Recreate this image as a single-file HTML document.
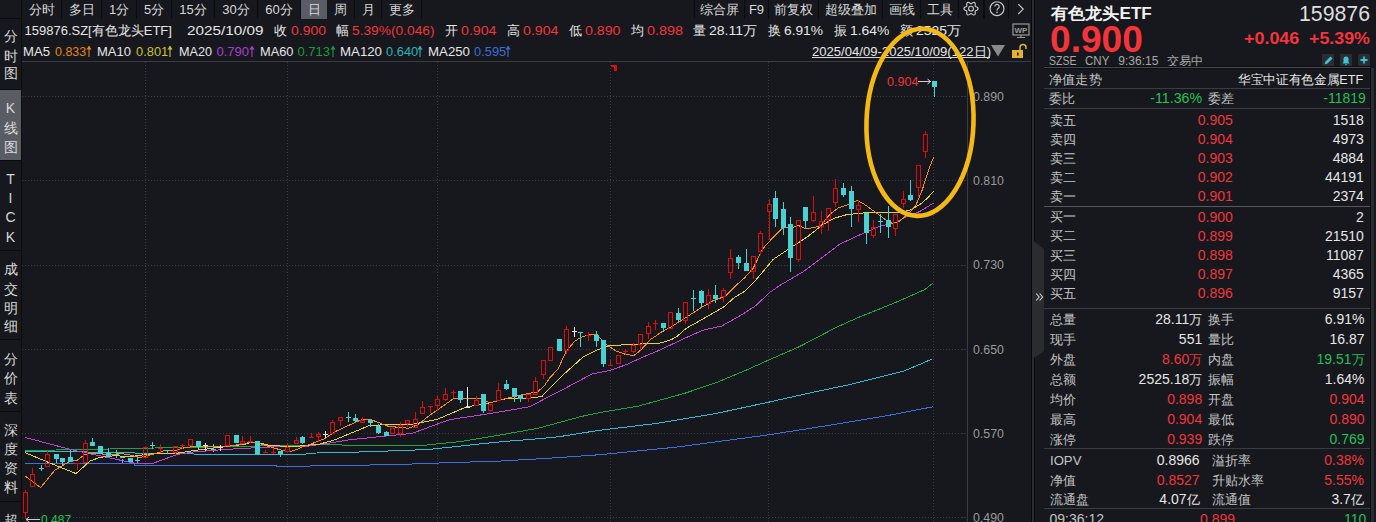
<!DOCTYPE html>
<html><head><meta charset="utf-8">
<style>
*{margin:0;padding:0;box-sizing:border-box}
html,body{width:1376px;height:522px;overflow:hidden;background:#16181d;font-family:"Liberation Sans",sans-serif;color:#d6d6d6}
.a{position:absolute;white-space:nowrap;line-height:1}
.btn{position:absolute;top:0;height:19px;line-height:19px;font-size:13px;color:#d8d8d8;text-align:center;border-right:1px solid #0b0c0f}
.side{position:absolute;left:0;width:21px;background:#16181d;border-bottom:1px solid #0b0c0f}
.ch{position:absolute;left:0;width:21px;text-align:center;font-size:14px;line-height:1;color:#d8d8d8}
.r{color:#f0353b}.g{color:#1ec05a}.w{color:#e8e8e8}.gy{color:#a0a0a0}
.t13{font-size:13px}
.hl{position:absolute;height:1px;background:#34363c}
</style></head><body>
<!-- top toolbar -->
<div class="btn" style="left:0;width:22px;border-bottom:1px solid #0b0c0f"></div>
<div class="btn" style="left:22px;width:40px">分时</div>
<div class="btn" style="left:62px;width:40px">多日</div>
<div class="btn" style="left:102px;width:35px">1分</div>
<div class="btn" style="left:137px;width:35px">5分</div>
<div class="btn" style="left:172px;width:43px">15分</div>
<div class="btn" style="left:215px;width:43px">30分</div>
<div class="btn" style="left:258px;width:43px">60分</div>
<div class="btn" style="left:301px;width:26px;background:#5a5c63;border-right:none">日</div>
<div class="btn" style="left:327px;width:28px">周</div>
<div class="btn" style="left:355px;width:27px">月</div>
<div class="btn" style="left:382px;width:40px">更多</div>
<div class="btn" style="left:694px;width:51px;border-left:1px solid #0b0c0f">综合屏</div>
<div class="btn" style="left:745px;width:24px">F9</div>
<div class="btn" style="left:769px;width:50px">前复权</div>
<div class="btn" style="left:819px;width:64px">超级叠加</div>
<div class="btn" style="left:883px;width:38px">画线</div>
<div class="btn" style="left:921px;width:38px">工具</div>
<div class="btn" style="left:959px;width:26px;border-right:2px solid #0b0c0f"></div>
<div class="btn" style="left:986px;width:23px"></div>
<svg class="a" style="left:958px;top:0" width="74" height="19" viewBox="0 0 74 19">
  <g fill="none" stroke="#c8c8c8" stroke-width="1.15">
    <path d="M20.10 8.65 L19.93 9.26 L19.45 9.79 L18.80 10.20 L18.12 10.51 L17.57 10.78 L17.24 11.10 L17.13 11.55 L17.17 12.15 L17.24 12.89 L17.21 13.67 L16.99 14.35 L16.55 14.80 L15.94 14.95 L15.24 14.80 L14.55 14.45 L13.95 14.02 L13.44 13.68 L13.00 13.55 L12.56 13.68 L12.05 14.02 L11.45 14.45 L10.76 14.80 L10.06 14.95 L9.45 14.80 L9.01 14.35 L8.79 13.67 L8.76 12.89 L8.83 12.15 L8.87 11.55 L8.76 11.10 L8.43 10.78 L7.88 10.51 L7.20 10.20 L6.55 9.79 L6.07 9.26 L5.90 8.65 L6.07 8.04 L6.55 7.51 L7.20 7.10 L7.88 6.79 L8.43 6.52 L8.76 6.20 L8.87 5.75 L8.83 5.15 L8.76 4.41 L8.79 3.63 L9.01 2.95 L9.45 2.50 L10.06 2.35 L10.76 2.50 L11.45 2.85 L12.05 3.28 L12.56 3.62 L13.00 3.75 L13.44 3.62 L13.95 3.28 L14.55 2.85 L15.24 2.50 L15.94 2.35 L16.55 2.50 L16.99 2.95 L17.21 3.63 L17.24 4.41 L17.17 5.15 L17.13 5.75 L17.24 6.20 L17.57 6.52 L18.12 6.79 L18.80 7.10 L19.45 7.51 L19.93 8.04 L20.10 8.65Z"/>
    <circle cx="13" cy="8.65" r="2.4"/>
    <circle cx="39" cy="8.65" r="6.9"/>
    <path d="M36.8 6.6a2.2 2.2 0 1 1 3.3 1.9c-0.8 0.45-1.1 0.9-1.1 1.9"/>
    <path d="M60.2 4.2l5 4.9-5 4.9"/>
  </g>
  <circle cx="39" cy="12.4" r="0.8" fill="#c8c8c8"/>
</svg>
<!-- left sidebar -->
<div class="side" style="top:19px;height:71px"><div class="ch" style="top:10px">分</div><div class="ch" style="top:30px">时</div><div class="ch" style="top:47px">图</div></div>
<div class="side" style="top:90px;height:71px;background:#5a5c63"><div class="ch" style="top:11px">K</div><div class="ch" style="top:31px">线</div><div class="ch" style="top:50px">图</div></div>
<div class="side" style="top:161px;height:90px"><div class="ch" style="top:11px">T</div><div class="ch" style="top:30px">I</div><div class="ch" style="top:49px">C</div><div class="ch" style="top:69px">K</div></div>
<div class="side" style="top:251px;height:89px"><div class="ch" style="top:11px">成</div><div class="ch" style="top:31px">交</div><div class="ch" style="top:50px">明</div><div class="ch" style="top:68px">细</div></div>
<div class="side" style="top:340px;height:72px"><div class="ch" style="top:12px">分</div><div class="ch" style="top:31px">价</div><div class="ch" style="top:51px">表</div></div>
<div class="side" style="top:412px;height:90px"><div class="ch" style="top:11px">深</div><div class="ch" style="top:30px">度</div><div class="ch" style="top:49px">资</div><div class="ch" style="top:68px">料</div></div>
<div class="side" style="top:502px;height:20px;border-bottom:none"><div class="ch" style="top:11px">超</div></div>
<div class="a" style="left:21px;top:19px;width:1px;height:503px;background:#0b0c0f"></div>

<svg class="a" style="left:0;top:0" width="1376" height="522" viewBox="0 0 1376 522" shape-rendering="crispEdges">
<line x1="22" y1="96.5" x2="968" y2="96.5" stroke="#3a3c41" stroke-dasharray="1 2"/>
<line x1="22" y1="180.5" x2="968" y2="180.5" stroke="#3a3c41" stroke-dasharray="1 2"/>
<line x1="22" y1="265.5" x2="968" y2="265.5" stroke="#3a3c41" stroke-dasharray="1 2"/>
<line x1="22" y1="349.5" x2="968" y2="349.5" stroke="#3a3c41" stroke-dasharray="1 2"/>
<line x1="22" y1="433.5" x2="968" y2="433.5" stroke="#3a3c41" stroke-dasharray="1 2"/>
<line x1="22" y1="517.5" x2="968" y2="517.5" stroke="#3a3c41" stroke-dasharray="1 2"/>
<line x1="145.5" y1="62" x2="145.5" y2="522" stroke="#3a3c41" stroke-dasharray="1 2"/>
<line x1="287.5" y1="62" x2="287.5" y2="522" stroke="#3a3c41" stroke-dasharray="1 2"/>
<line x1="437.5" y1="62" x2="437.5" y2="522" stroke="#3a3c41" stroke-dasharray="1 2"/>
<line x1="610.5" y1="62" x2="610.5" y2="522" stroke="#3a3c41" stroke-dasharray="1 2"/>
<line x1="768.5" y1="62" x2="768.5" y2="522" stroke="#3a3c41" stroke-dasharray="1 2"/>
<line x1="933.5" y1="62" x2="933.5" y2="522" stroke="#3a3c41" stroke-dasharray="1 2"/>
<rect x="967" y="62" width="1" height="460" fill="#3a3c42"/>
<line x1="962" y1="96.5" x2="967" y2="96.5" stroke="#3a3c41" stroke-dasharray="1 2"/>
<line x1="962" y1="180.5" x2="967" y2="180.5" stroke="#3a3c41" stroke-dasharray="1 2"/>
<line x1="962" y1="265.5" x2="967" y2="265.5" stroke="#3a3c41" stroke-dasharray="1 2"/>
<line x1="962" y1="349.5" x2="967" y2="349.5" stroke="#3a3c41" stroke-dasharray="1 2"/>
<line x1="962" y1="433.5" x2="967" y2="433.5" stroke="#3a3c41" stroke-dasharray="1 2"/>
<line x1="962" y1="517.5" x2="967" y2="517.5" stroke="#3a3c41" stroke-dasharray="1 2"/>
<polyline points="25.0,463.7 134.9,463.7 135.0,465.5 276.8,465.5 277.0,466.5 350.5,465.4 404.0,464.3 433.4,463.2 501.0,461.0 546.7,458.4 600.0,454.7 676.7,447.1 768.6,434.8 830.0,425.2 887.5,415.6 932.7,406.8" fill="none" stroke="#3e6ee0" stroke-width="1" shape-rendering="crispEdges"/>
<polyline points="25.0,451.4 87.6,451.6 88.0,452.5 134.9,452.5 135.0,453.2 193.5,453.2 194.0,454.2 306.0,454.2 307.0,453.2 350.5,452.3 381.0,451.2 404.0,450.6 433.4,449.0 472.6,444.7 505.3,441.4 538.0,438.8 559.8,436.6 581.6,433.1 600.0,430.2 657.5,423.3 715.0,413.7 768.6,402.2 814.6,391.9 850.4,384.5 882.6,376.4 904.0,371.0 920.1,364.3 932.2,359.0" fill="none" stroke="#30bcd0" stroke-width="1" shape-rendering="crispEdges"/>
<polyline points="25.0,450.5 87.6,449.5 177.7,447.5 245.3,446.4 267.8,445.7 330.0,444.8 388.7,445.8 419.2,445.8 433.4,444.3 461.7,441.4 494.4,436.0 538.0,428.3 581.6,416.4 600.0,412.6 638.3,406.1 684.3,393.4 715.0,383.1 745.6,370.4 768.6,360.1 799.3,346.7 837.6,326.7 858.5,317.4 880.0,308.8 901.4,300.0 925.0,289.5 932.5,283.4" fill="none" stroke="#1aa540" stroke-width="1" shape-rendering="crispEdges"/>
<polyline points="25.0,437.4 71.8,449.8 87.6,453.2 134.9,463.3 152.9,463.3 177.7,454.3 193.5,452.0 208.0,450.8 226.0,449.4 246.0,448.3 270.0,447.0 306.0,446.4 330.0,443.0 349.3,439.8 389.0,435.7 412.0,433.4 440.0,423.1 451.0,419.4 490.0,413.6 530.0,406.7 550.0,396.0 562.0,390.0 591.7,374.1 609.0,370.7 626.2,364.7 643.4,356.9 660.0,350.0 681.6,339.7 702.7,330.2 721.7,326.0 740.7,315.4 755.4,305.9 770.0,292.2 780.6,285.0 802.7,272.0 823.8,256.2 840.0,244.0 863.9,233.0 880.0,226.0 895.0,222.9 905.0,217.5 920.0,211.4 933.5,203.0" fill="none" stroke="#bf42d4" stroke-width="1" shape-rendering="crispEdges"/>
<polyline points="25.0,452.6 50.0,463.0 76.0,473.6 90.0,461.0 100.0,457.4 115.0,455.6 130.0,456.8 145.0,454.5 160.0,453.3 175.0,453.3 180.0,452.8 194.0,450.5 205.0,449.3 222.0,446.6 235.0,445.4 245.0,444.3 250.0,442.5 260.0,443.0 265.0,444.3 270.0,445.4 280.0,446.0 300.0,446.0 320.0,444.0 335.0,439.8 368.3,426.0 389.0,424.3 412.0,424.3 437.0,419.4 467.0,406.7 483.0,404.4 505.0,399.0 530.0,398.2 542.0,396.4 547.8,390.0 565.9,372.4 583.1,356.9 596.9,350.0 609.0,345.7 629.7,344.5 660.0,343.1 671.1,339.8 677.9,335.7 686.0,328.4 700.7,320.2 723.5,307.2 734.4,297.5 744.9,291.2 755.4,280.6 773.2,259.4 792.2,246.7 806.9,237.2 822.8,224.6 834.4,218.2 847.0,214.6 865.0,212.8 899.9,212.8 910.0,210.0 920.0,204.5 927.0,198.5 933.5,191.5" fill="none" stroke="#e4d03a" stroke-width="1" shape-rendering="crispEdges"/>
<polyline points="25.0,476.0 40.6,487.6 55.0,470.0 70.0,461.2 77.0,460.3 85.4,454.2 97.0,453.3 110.0,455.0 120.0,453.3 130.0,455.0 140.0,457.4 152.0,454.5 163.0,451.0 175.0,450.5 185.0,447.6 195.0,446.4 222.0,447.0 230.0,446.0 240.0,444.3 250.0,442.5 258.0,442.5 262.0,444.3 275.0,448.3 283.0,450.6 290.0,451.7 297.0,449.4 302.0,447.0 310.0,444.3 318.0,441.4 325.0,438.5 335.0,431.7 350.0,424.8 361.4,419.7 371.1,419.7 389.0,426.6 397.0,427.1 408.5,428.3 417.7,424.8 430.0,415.1 453.0,399.0 480.6,398.3 489.8,402.8 499.0,400.5 509.7,397.5 528.0,393.6 537.3,392.0 544.2,386.0 550.0,377.5 558.1,369.0 565.9,351.7 574.5,341.4 581.4,337.1 591.7,334.1 596.9,334.5 606.4,344.8 615.9,350.9 625.3,354.3 634.0,355.5 640.9,350.0 650.3,339.7 662.7,331.2 671.1,327.0 685.9,317.5 700.6,308.0 713.3,300.6 724.9,296.4 734.4,286.9 744.9,277.5 753.3,268.0 762.7,248.8 773.2,237.2 783.7,226.7 791.1,228.1 798.5,225.6 805.9,228.8 813.3,227.7 820.6,225.6 830.1,214.0 838.6,207.7 849.1,204.5 857.5,200.3 865.0,204.8 873.7,211.0 883.7,218.5 892.4,223.5 899.9,221.0 908.6,213.5 916.1,204.8 922.3,189.8 928.6,169.9 933.5,157.4" fill="none" stroke="#f48c1a" stroke-width="1" shape-rendering="crispEdges"/>
<rect x="25" y="490" width="1" height="2" fill="#e00c0c"/>
<rect x="25" y="513" width="1" height="6" fill="#e00c0c"/>
<rect x="23.5" y="492.5" width="4" height="20" fill="none" stroke="#e00c0c" stroke-width="1"/>
<rect x="32" y="468" width="1" height="6" fill="#e00c0c"/>
<rect x="30.5" y="474.5" width="4" height="12" fill="none" stroke="#e00c0c" stroke-width="1"/>
<rect x="41" y="465" width="1" height="3" fill="#48d0d2"/>
<rect x="41" y="469" width="1" height="2" fill="#48d0d2"/>
<rect x="39" y="468" width="5" height="1" fill="#48d0d2"/>
<rect x="47" y="451" width="1" height="3" fill="#e00c0c"/>
<rect x="45.5" y="454.5" width="4" height="12" fill="none" stroke="#e00c0c" stroke-width="1"/>
<rect x="56" y="459" width="1" height="4" fill="#48d0d2"/>
<rect x="54" y="454" width="5" height="5" fill="#48d0d2"/>
<rect x="62" y="462" width="1" height="4" fill="#48d0d2"/>
<rect x="60" y="458" width="5" height="4" fill="#48d0d2"/>
<rect x="70" y="450" width="1" height="7" fill="#48d0d2"/>
<rect x="68" y="457" width="5" height="5" fill="#48d0d2"/>
<rect x="77" y="464" width="1" height="6" fill="#e00c0c"/>
<rect x="75" y="463" width="5" height="1" fill="#e00c0c"/>
<rect x="85" y="440" width="1" height="3" fill="#e00c0c"/>
<rect x="83.5" y="443.5" width="4" height="19" fill="none" stroke="#e00c0c" stroke-width="1"/>
<rect x="92" y="438" width="1" height="4" fill="#48d0d2"/>
<rect x="90" y="442" width="5" height="4" fill="#48d0d2"/>
<rect x="98" y="446" width="5" height="8" fill="#48d0d2"/>
<rect x="108" y="448" width="1" height="5" fill="#48d0d2"/>
<rect x="106" y="453" width="5" height="4" fill="#48d0d2"/>
<rect x="116" y="450" width="1" height="4" fill="#48d0d2"/>
<rect x="116" y="456" width="1" height="2" fill="#48d0d2"/>
<rect x="114" y="454" width="5" height="1" fill="#48d0d2"/>
<rect x="122" y="459" width="1" height="4" fill="#48d0d2"/>
<rect x="120" y="457" width="5" height="1" fill="#48d0d2"/>
<rect x="128" y="458" width="5" height="4" fill="#48d0d2"/>
<rect x="137" y="457" width="1" height="3" fill="#48d0d2"/>
<rect x="137" y="461" width="1" height="2" fill="#48d0d2"/>
<rect x="135" y="460" width="5" height="1" fill="#48d0d2"/>
<rect x="143.5" y="447.5" width="4" height="10" fill="none" stroke="#e00c0c" stroke-width="1"/>
<rect x="152" y="442" width="1" height="3" fill="#48d0d2"/>
<rect x="152" y="446" width="1" height="3" fill="#48d0d2"/>
<rect x="150" y="445" width="5" height="1" fill="#48d0d2"/>
<rect x="160" y="444" width="1" height="4" fill="#e00c0c"/>
<rect x="160" y="449" width="1" height="4" fill="#e00c0c"/>
<rect x="158" y="448" width="5" height="1" fill="#e00c0c"/>
<rect x="167" y="451" width="1" height="3" fill="#48d0d2"/>
<rect x="165" y="450" width="5" height="1" fill="#48d0d2"/>
<rect x="175" y="453" width="1" height="1" fill="#e00c0c"/>
<rect x="173.5" y="446.5" width="4" height="6" fill="none" stroke="#e00c0c" stroke-width="1"/>
<rect x="182" y="444" width="1" height="1" fill="#e00c0c"/>
<rect x="182" y="446" width="1" height="3" fill="#e00c0c"/>
<rect x="180" y="445" width="5" height="1" fill="#e00c0c"/>
<rect x="188.5" y="439.5" width="4" height="6" fill="none" stroke="#e00c0c" stroke-width="1"/>
<rect x="198" y="447" width="1" height="2" fill="#48d0d2"/>
<rect x="196" y="441" width="5" height="6" fill="#48d0d2"/>
<rect x="205" y="443" width="1" height="2" fill="#e6e6e6"/>
<rect x="205" y="446" width="1" height="5" fill="#e6e6e6"/>
<rect x="203" y="445" width="5" height="1" fill="#e6e6e6"/>
<rect x="213" y="444" width="1" height="5" fill="#48d0d2"/>
<rect x="213" y="451" width="1" height="1" fill="#48d0d2"/>
<rect x="211" y="449" width="5" height="1" fill="#48d0d2"/>
<rect x="220" y="445" width="1" height="2" fill="#e6e6e6"/>
<rect x="220" y="448" width="1" height="3" fill="#e6e6e6"/>
<rect x="218" y="447" width="5" height="1" fill="#e6e6e6"/>
<rect x="225.5" y="435.5" width="4" height="10" fill="none" stroke="#e00c0c" stroke-width="1"/>
<rect x="234" y="435" width="5" height="8" fill="#48d0d2"/>
<rect x="242" y="436" width="1" height="5" fill="#e00c0c"/>
<rect x="240.5" y="441.5" width="4" height="2" fill="none" stroke="#e00c0c" stroke-width="1"/>
<rect x="250" y="436" width="1" height="5" fill="#e00c0c"/>
<rect x="250" y="442" width="1" height="1" fill="#e00c0c"/>
<rect x="248" y="441" width="5" height="1" fill="#e00c0c"/>
<rect x="257" y="454" width="1" height="1" fill="#48d0d2"/>
<rect x="255" y="441" width="5" height="13" fill="#48d0d2"/>
<rect x="265" y="450" width="1" height="2" fill="#e00c0c"/>
<rect x="263" y="452" width="5" height="1" fill="#e00c0c"/>
<rect x="273" y="448" width="1" height="4" fill="#e00c0c"/>
<rect x="273" y="453" width="1" height="1" fill="#e00c0c"/>
<rect x="271" y="452" width="5" height="1" fill="#e00c0c"/>
<rect x="280" y="454" width="1" height="3" fill="#48d0d2"/>
<rect x="278" y="451" width="5" height="3" fill="#48d0d2"/>
<rect x="287" y="443" width="1" height="4" fill="#e00c0c"/>
<rect x="285.5" y="447.5" width="4" height="4" fill="none" stroke="#e00c0c" stroke-width="1"/>
<rect x="296" y="437" width="1" height="3" fill="#e00c0c"/>
<rect x="294.5" y="440.5" width="4" height="3" fill="none" stroke="#e00c0c" stroke-width="1"/>
<rect x="302" y="436" width="1" height="1" fill="#48d0d2"/>
<rect x="302" y="443" width="1" height="1" fill="#48d0d2"/>
<rect x="300" y="437" width="5" height="6" fill="#48d0d2"/>
<rect x="311" y="433" width="1" height="4" fill="#e00c0c"/>
<rect x="309" y="437" width="5" height="1" fill="#e00c0c"/>
<rect x="318" y="432" width="1" height="2" fill="#e00c0c"/>
<rect x="318" y="437" width="1" height="5" fill="#e00c0c"/>
<rect x="316.5" y="434.5" width="4" height="2" fill="none" stroke="#e00c0c" stroke-width="1"/>
<rect x="325" y="431" width="1" height="3" fill="#e6e6e6"/>
<rect x="325" y="435" width="1" height="3" fill="#e6e6e6"/>
<rect x="323" y="434" width="5" height="1" fill="#e6e6e6"/>
<rect x="332" y="420" width="1" height="2" fill="#e00c0c"/>
<rect x="330.5" y="422.5" width="4" height="11" fill="none" stroke="#e00c0c" stroke-width="1"/>
<rect x="340" y="421" width="1" height="5" fill="#e00c0c"/>
<rect x="338.5" y="417.5" width="4" height="3" fill="none" stroke="#e00c0c" stroke-width="1"/>
<rect x="348" y="412" width="1" height="5" fill="#48d0d2"/>
<rect x="348" y="418" width="1" height="4" fill="#48d0d2"/>
<rect x="346" y="417" width="5" height="1" fill="#48d0d2"/>
<rect x="355" y="414" width="1" height="4" fill="#48d0d2"/>
<rect x="355" y="421" width="1" height="1" fill="#48d0d2"/>
<rect x="353" y="418" width="5" height="3" fill="#48d0d2"/>
<rect x="362" y="417" width="1" height="3" fill="#e00c0c"/>
<rect x="360.5" y="420.5" width="4" height="2" fill="none" stroke="#e00c0c" stroke-width="1"/>
<rect x="370" y="423" width="1" height="4" fill="#48d0d2"/>
<rect x="368" y="420" width="5" height="3" fill="#48d0d2"/>
<rect x="378" y="424" width="1" height="2" fill="#48d0d2"/>
<rect x="378" y="433" width="1" height="1" fill="#48d0d2"/>
<rect x="376" y="426" width="5" height="7" fill="#48d0d2"/>
<rect x="386" y="431" width="1" height="1" fill="#48d0d2"/>
<rect x="384" y="432" width="5" height="4" fill="#48d0d2"/>
<rect x="390.5" y="428.5" width="4" height="5" fill="none" stroke="#e00c0c" stroke-width="1"/>
<rect x="400" y="422" width="1" height="3" fill="#e00c0c"/>
<rect x="400" y="434" width="1" height="3" fill="#e00c0c"/>
<rect x="398.5" y="425.5" width="4" height="8" fill="none" stroke="#e00c0c" stroke-width="1"/>
<rect x="407" y="424" width="1" height="3" fill="#e00c0c"/>
<rect x="405.5" y="420.5" width="4" height="3" fill="none" stroke="#e00c0c" stroke-width="1"/>
<rect x="415" y="412" width="1" height="7" fill="#e00c0c"/>
<rect x="413.5" y="419.5" width="4" height="8" fill="none" stroke="#e00c0c" stroke-width="1"/>
<rect x="422" y="401" width="1" height="6" fill="#e00c0c"/>
<rect x="420.5" y="407.5" width="4" height="6" fill="none" stroke="#e00c0c" stroke-width="1"/>
<rect x="430" y="407" width="1" height="6" fill="#e00c0c"/>
<rect x="428" y="406" width="5" height="1" fill="#e00c0c"/>
<rect x="437" y="396" width="1" height="3" fill="#e00c0c"/>
<rect x="437" y="406" width="1" height="5" fill="#e00c0c"/>
<rect x="435.5" y="399.5" width="4" height="6" fill="none" stroke="#e00c0c" stroke-width="1"/>
<rect x="445" y="388" width="1" height="6" fill="#e00c0c"/>
<rect x="445" y="400" width="1" height="1" fill="#e00c0c"/>
<rect x="443.5" y="394.5" width="4" height="5" fill="none" stroke="#e00c0c" stroke-width="1"/>
<rect x="453" y="390" width="1" height="2" fill="#e00c0c"/>
<rect x="453" y="393" width="1" height="5" fill="#e00c0c"/>
<rect x="451" y="392" width="5" height="1" fill="#e00c0c"/>
<rect x="460" y="400" width="1" height="3" fill="#48d0d2"/>
<rect x="458" y="391" width="5" height="9" fill="#48d0d2"/>
<rect x="467" y="387" width="1" height="20" fill="#e6e6e6"/>
<rect x="465" y="407" width="5" height="1" fill="#e6e6e6"/>
<rect x="476" y="396" width="1" height="4" fill="#e00c0c"/>
<rect x="474.5" y="400.5" width="4" height="5" fill="none" stroke="#e00c0c" stroke-width="1"/>
<rect x="483" y="411" width="1" height="2" fill="#48d0d2"/>
<rect x="481" y="394" width="5" height="17" fill="#48d0d2"/>
<rect x="488.5" y="404.5" width="4" height="6" fill="none" stroke="#e00c0c" stroke-width="1"/>
<rect x="498" y="383" width="1" height="7" fill="#e00c0c"/>
<rect x="496.5" y="390.5" width="4" height="10" fill="none" stroke="#e00c0c" stroke-width="1"/>
<rect x="506" y="380" width="1" height="4" fill="#48d0d2"/>
<rect x="506" y="389" width="1" height="1" fill="#48d0d2"/>
<rect x="504" y="384" width="5" height="5" fill="#48d0d2"/>
<rect x="514" y="396" width="1" height="6" fill="#48d0d2"/>
<rect x="512" y="388" width="5" height="8" fill="#48d0d2"/>
<rect x="520" y="399" width="1" height="3" fill="#48d0d2"/>
<rect x="518" y="395" width="5" height="4" fill="#48d0d2"/>
<rect x="528" y="399" width="1" height="3" fill="#e00c0c"/>
<rect x="526.5" y="394.5" width="4" height="4" fill="none" stroke="#e00c0c" stroke-width="1"/>
<rect x="535" y="377" width="1" height="4" fill="#e00c0c"/>
<rect x="533.5" y="381.5" width="4" height="13" fill="none" stroke="#e00c0c" stroke-width="1"/>
<rect x="543" y="375" width="1" height="4" fill="#e00c0c"/>
<rect x="541.5" y="360.5" width="4" height="14" fill="none" stroke="#e00c0c" stroke-width="1"/>
<rect x="548.5" y="347.5" width="4" height="13" fill="none" stroke="#e00c0c" stroke-width="1"/>
<rect x="557" y="339" width="5" height="12" fill="#48d0d2"/>
<rect x="566" y="326" width="1" height="3" fill="#e00c0c"/>
<rect x="566" y="351" width="1" height="3" fill="#e00c0c"/>
<rect x="564.5" y="329.5" width="4" height="21" fill="none" stroke="#e00c0c" stroke-width="1"/>
<rect x="574" y="327" width="1" height="4" fill="#e6e6e6"/>
<rect x="574" y="332" width="1" height="5" fill="#e6e6e6"/>
<rect x="572" y="331" width="5" height="1" fill="#e6e6e6"/>
<rect x="580" y="333" width="1" height="14" fill="#48d0d2"/>
<rect x="578" y="332" width="5" height="1" fill="#48d0d2"/>
<rect x="588" y="332" width="1" height="3" fill="#e00c0c"/>
<rect x="588" y="336" width="1" height="5" fill="#e00c0c"/>
<rect x="586" y="335" width="5" height="1" fill="#e00c0c"/>
<rect x="596" y="331" width="1" height="4" fill="#48d0d2"/>
<rect x="596" y="341" width="1" height="6" fill="#48d0d2"/>
<rect x="594" y="335" width="5" height="6" fill="#48d0d2"/>
<rect x="603" y="364" width="1" height="3" fill="#48d0d2"/>
<rect x="601" y="340" width="5" height="24" fill="#48d0d2"/>
<rect x="610" y="360" width="1" height="5" fill="#e00c0c"/>
<rect x="608" y="365" width="5" height="1" fill="#e00c0c"/>
<rect x="616.5" y="355.5" width="4" height="8" fill="none" stroke="#e00c0c" stroke-width="1"/>
<rect x="625" y="349" width="1" height="2" fill="#e00c0c"/>
<rect x="625" y="352" width="1" height="3" fill="#e00c0c"/>
<rect x="623" y="351" width="5" height="1" fill="#e00c0c"/>
<rect x="633" y="343" width="1" height="2" fill="#e00c0c"/>
<rect x="633" y="352" width="1" height="1" fill="#e00c0c"/>
<rect x="631.5" y="345.5" width="4" height="6" fill="none" stroke="#e00c0c" stroke-width="1"/>
<rect x="640" y="345" width="1" height="5" fill="#e00c0c"/>
<rect x="638.5" y="334.5" width="4" height="10" fill="none" stroke="#e00c0c" stroke-width="1"/>
<rect x="648" y="322" width="1" height="4" fill="#e00c0c"/>
<rect x="648" y="334" width="1" height="5" fill="#e00c0c"/>
<rect x="646.5" y="326.5" width="4" height="7" fill="none" stroke="#e00c0c" stroke-width="1"/>
<rect x="655" y="320" width="1" height="3" fill="#e00c0c"/>
<rect x="655" y="324" width="1" height="6" fill="#e00c0c"/>
<rect x="653" y="323" width="5" height="1" fill="#e00c0c"/>
<rect x="663" y="328" width="1" height="4" fill="#48d0d2"/>
<rect x="661" y="323" width="5" height="5" fill="#48d0d2"/>
<rect x="668.5" y="312.5" width="4" height="16" fill="none" stroke="#e00c0c" stroke-width="1"/>
<rect x="678" y="308" width="1" height="5" fill="#48d0d2"/>
<rect x="678" y="320" width="1" height="2" fill="#48d0d2"/>
<rect x="676" y="313" width="5" height="7" fill="#48d0d2"/>
<rect x="685" y="321" width="1" height="3" fill="#e00c0c"/>
<rect x="683.5" y="302.5" width="4" height="18" fill="none" stroke="#e00c0c" stroke-width="1"/>
<rect x="693" y="290" width="1" height="8" fill="#48d0d2"/>
<rect x="693" y="299" width="1" height="12" fill="#48d0d2"/>
<rect x="691" y="298" width="5" height="1" fill="#48d0d2"/>
<rect x="701" y="290" width="1" height="1" fill="#48d0d2"/>
<rect x="701" y="303" width="1" height="4" fill="#48d0d2"/>
<rect x="699" y="291" width="5" height="12" fill="#48d0d2"/>
<rect x="708" y="289" width="1" height="6" fill="#e00c0c"/>
<rect x="708" y="304" width="1" height="5" fill="#e00c0c"/>
<rect x="706.5" y="295.5" width="4" height="8" fill="none" stroke="#e00c0c" stroke-width="1"/>
<rect x="715" y="285" width="1" height="10" fill="#48d0d2"/>
<rect x="715" y="299" width="1" height="4" fill="#48d0d2"/>
<rect x="713" y="295" width="5" height="4" fill="#48d0d2"/>
<rect x="723" y="288" width="1" height="2" fill="#e00c0c"/>
<rect x="723" y="297" width="1" height="5" fill="#e00c0c"/>
<rect x="721.5" y="290.5" width="4" height="6" fill="none" stroke="#e00c0c" stroke-width="1"/>
<rect x="730" y="249" width="1" height="9" fill="#e00c0c"/>
<rect x="730" y="273" width="1" height="6" fill="#e00c0c"/>
<rect x="728.5" y="258.5" width="4" height="14" fill="none" stroke="#e00c0c" stroke-width="1"/>
<rect x="738" y="255" width="1" height="2" fill="#48d0d2"/>
<rect x="738" y="263" width="1" height="6" fill="#48d0d2"/>
<rect x="736" y="257" width="5" height="6" fill="#48d0d2"/>
<rect x="746" y="249" width="1" height="14" fill="#48d0d2"/>
<rect x="744" y="263" width="5" height="8" fill="#48d0d2"/>
<rect x="753" y="272" width="1" height="7" fill="#e00c0c"/>
<rect x="751.5" y="256.5" width="4" height="15" fill="none" stroke="#e00c0c" stroke-width="1"/>
<rect x="760" y="231" width="1" height="2" fill="#e00c0c"/>
<rect x="760" y="252" width="1" height="3" fill="#e00c0c"/>
<rect x="758.5" y="233.5" width="4" height="18" fill="none" stroke="#e00c0c" stroke-width="1"/>
<rect x="769" y="199" width="1" height="5" fill="#e00c0c"/>
<rect x="769" y="212" width="1" height="28" fill="#e00c0c"/>
<rect x="767.5" y="204.5" width="4" height="7" fill="none" stroke="#e00c0c" stroke-width="1"/>
<rect x="775" y="191" width="1" height="7" fill="#48d0d2"/>
<rect x="775" y="219" width="1" height="8" fill="#48d0d2"/>
<rect x="773" y="198" width="5" height="21" fill="#48d0d2"/>
<rect x="783" y="202" width="1" height="7" fill="#48d0d2"/>
<rect x="783" y="228" width="1" height="7" fill="#48d0d2"/>
<rect x="781" y="209" width="5" height="19" fill="#48d0d2"/>
<rect x="790" y="217" width="1" height="7" fill="#48d0d2"/>
<rect x="790" y="258" width="1" height="14" fill="#48d0d2"/>
<rect x="788" y="224" width="5" height="34" fill="#48d0d2"/>
<rect x="798" y="260" width="1" height="2" fill="#e00c0c"/>
<rect x="796.5" y="220.5" width="4" height="39" fill="none" stroke="#e00c0c" stroke-width="1"/>
<rect x="805" y="221" width="1" height="8" fill="#48d0d2"/>
<rect x="803" y="207" width="5" height="14" fill="#48d0d2"/>
<rect x="813" y="196" width="1" height="16" fill="#e00c0c"/>
<rect x="813" y="221" width="1" height="1" fill="#e00c0c"/>
<rect x="811.5" y="212.5" width="4" height="8" fill="none" stroke="#e00c0c" stroke-width="1"/>
<rect x="821" y="211" width="1" height="10" fill="#e00c0c"/>
<rect x="821" y="227" width="1" height="7" fill="#e00c0c"/>
<rect x="819.5" y="221.5" width="4" height="5" fill="none" stroke="#e00c0c" stroke-width="1"/>
<rect x="828" y="220" width="1" height="11" fill="#e00c0c"/>
<rect x="826.5" y="208.5" width="4" height="11" fill="none" stroke="#e00c0c" stroke-width="1"/>
<rect x="835" y="179" width="1" height="9" fill="#e00c0c"/>
<rect x="835" y="203" width="1" height="4" fill="#e00c0c"/>
<rect x="833.5" y="188.5" width="4" height="14" fill="none" stroke="#e00c0c" stroke-width="1"/>
<rect x="843" y="183" width="1" height="5" fill="#48d0d2"/>
<rect x="843" y="195" width="1" height="2" fill="#48d0d2"/>
<rect x="841" y="188" width="5" height="7" fill="#48d0d2"/>
<rect x="851" y="186" width="1" height="5" fill="#48d0d2"/>
<rect x="851" y="209" width="1" height="18" fill="#48d0d2"/>
<rect x="849" y="191" width="5" height="18" fill="#48d0d2"/>
<rect x="858" y="200" width="1" height="5" fill="#e00c0c"/>
<rect x="858" y="210" width="1" height="12" fill="#e00c0c"/>
<rect x="856.5" y="205.5" width="4" height="4" fill="none" stroke="#e00c0c" stroke-width="1"/>
<rect x="866" y="233" width="1" height="11" fill="#48d0d2"/>
<rect x="864" y="213" width="5" height="20" fill="#48d0d2"/>
<rect x="873" y="220" width="1" height="7" fill="#e00c0c"/>
<rect x="873" y="236" width="1" height="2" fill="#e00c0c"/>
<rect x="871.5" y="227.5" width="4" height="8" fill="none" stroke="#e00c0c" stroke-width="1"/>
<rect x="880" y="214" width="1" height="7" fill="#48d0d2"/>
<rect x="880" y="222" width="1" height="11" fill="#48d0d2"/>
<rect x="878" y="221" width="5" height="1" fill="#48d0d2"/>
<rect x="888" y="206" width="1" height="14" fill="#48d0d2"/>
<rect x="888" y="227" width="1" height="11" fill="#48d0d2"/>
<rect x="886" y="220" width="5" height="7" fill="#48d0d2"/>
<rect x="895" y="229" width="1" height="7" fill="#e00c0c"/>
<rect x="893.5" y="214.5" width="4" height="14" fill="none" stroke="#e00c0c" stroke-width="1"/>
<rect x="903" y="191" width="1" height="8" fill="#e00c0c"/>
<rect x="903" y="204" width="1" height="4" fill="#e00c0c"/>
<rect x="901.5" y="199.5" width="4" height="4" fill="none" stroke="#e00c0c" stroke-width="1"/>
<rect x="910" y="180" width="1" height="15" fill="#48d0d2"/>
<rect x="910" y="200" width="1" height="1" fill="#48d0d2"/>
<rect x="908" y="195" width="5" height="5" fill="#48d0d2"/>
<rect x="918" y="188" width="1" height="9" fill="#e00c0c"/>
<rect x="916.5" y="165.5" width="4" height="22" fill="none" stroke="#e00c0c" stroke-width="1"/>
<rect x="925" y="131" width="1" height="3" fill="#e00c0c"/>
<rect x="925" y="152" width="1" height="6" fill="#e00c0c"/>
<rect x="923.5" y="134.5" width="4" height="17" fill="none" stroke="#e00c0c" stroke-width="1"/>
<rect x="934" y="87" width="1" height="10" fill="#48d0d2"/>
<rect x="932" y="81" width="5" height="6" fill="#48d0d2"/>
<rect x="611" y="65" width="6" height="2" fill="#e00c0c"/><rect x="614" y="65" width="3" height="6" fill="#e00c0c"/>
<line x1="918" y1="81.5" x2="931" y2="81.5" stroke="#d0d0d0"/>
<path d="M927.5 79l3 2.5-3 2.5" fill="none" stroke="#d0d0d0" shape-rendering="auto"/>
<line x1="26" y1="519.5" x2="40" y2="519.5" stroke="#d0d0d0"/>
<path d="M29 517l-3 2.5 3 2.5" fill="none" stroke="#d0d0d0" shape-rendering="auto"/>
</svg>
<div class="a" style="top:89.80px;font-size:13px;line-height:13px;color:#9a9a9a;font-weight:normal;left:973.30px;transform-origin:left center;transform:scaleX(0.9494);">0.890</div>
<div class="a" style="top:174.10px;font-size:13px;line-height:13px;color:#9a9a9a;font-weight:normal;left:973.30px;transform-origin:left center;transform:scaleX(0.9494);">0.810</div>
<div class="a" style="top:258.40px;font-size:13px;line-height:13px;color:#9a9a9a;font-weight:normal;left:973.30px;transform-origin:left center;transform:scaleX(0.9494);">0.730</div>
<div class="a" style="top:342.70px;font-size:13px;line-height:13px;color:#9a9a9a;font-weight:normal;left:973.30px;transform-origin:left center;transform:scaleX(0.9494);">0.650</div>
<div class="a" style="top:427.00px;font-size:13px;line-height:13px;color:#9a9a9a;font-weight:normal;left:973.30px;transform-origin:left center;transform:scaleX(0.9494);">0.570</div>
<div class="a" style="top:511.30px;font-size:13px;line-height:13px;color:#9a9a9a;font-weight:normal;left:973.30px;transform-origin:left center;transform:scaleX(0.9494);">0.490</div>
<div class="a" style="top:75.10px;font-size:13px;line-height:13px;color:#f0363c;font-weight:normal;left:887.10px;transform-origin:left center;transform:scaleX(0.9648);">0.904</div>
<div class="a" style="top:513.00px;font-size:13px;line-height:13px;color:#22c055;font-weight:normal;left:40.50px;transform-origin:left center;transform:scaleX(0.9279);">0.487</div>
<div class="a" style="top:24.00px;font-size:13px;line-height:13px;color:#e6e6e6;font-weight:normal;left:24.50px;transform-origin:left center;">159876.SZ[有色龙头ETF]</div>
<div class="a" style="top:24.00px;font-size:13px;line-height:13px;color:#e6e6e6;font-weight:normal;left:186.50px;transform-origin:left center;transform:scaleX(1.1755);">2025/10/09</div>
<div class="a" style="top:24.00px;font-size:13px;line-height:13px;color:#e6e6e6;font-weight:normal;left:274.00px;transform-origin:left center;">收</div>
<div class="a" style="top:24.00px;font-size:13px;line-height:13px;color:#f0363c;font-weight:normal;left:290.50px;transform-origin:left center;transform:scaleX(1.0754);">0.900</div>
<div class="a" style="top:24.00px;font-size:13px;line-height:13px;color:#e6e6e6;font-weight:normal;left:335.50px;transform-origin:left center;">幅</div>
<div class="a" style="top:24.00px;font-size:13px;line-height:13px;color:#f0363c;font-weight:normal;left:352.00px;transform-origin:left center;transform:scaleX(1.0568);">5.39%(0.046)</div>
<div class="a" style="top:24.00px;font-size:13px;line-height:13px;color:#e6e6e6;font-weight:normal;left:444.50px;transform-origin:left center;">开</div>
<div class="a" style="top:24.00px;font-size:13px;line-height:13px;color:#f0363c;font-weight:normal;left:460.50px;transform-origin:left center;transform:scaleX(1.0907);">0.904</div>
<div class="a" style="top:24.00px;font-size:13px;line-height:13px;color:#e6e6e6;font-weight:normal;left:506.50px;transform-origin:left center;">高</div>
<div class="a" style="top:24.00px;font-size:13px;line-height:13px;color:#f0363c;font-weight:normal;left:522.50px;transform-origin:left center;transform:scaleX(1.0907);">0.904</div>
<div class="a" style="top:24.00px;font-size:13px;line-height:13px;color:#e6e6e6;font-weight:normal;left:568.50px;transform-origin:left center;">低</div>
<div class="a" style="top:24.00px;font-size:13px;line-height:13px;color:#f0363c;font-weight:normal;left:585.00px;transform-origin:left center;transform:scaleX(1.0907);">0.890</div>
<div class="a" style="top:24.00px;font-size:13px;line-height:13px;color:#e6e6e6;font-weight:normal;left:630.50px;transform-origin:left center;">均</div>
<div class="a" style="top:24.00px;font-size:13px;line-height:13px;color:#f0363c;font-weight:normal;left:646.50px;transform-origin:left center;transform:scaleX(1.1061);">0.898</div>
<div class="a" style="top:24.00px;font-size:13px;line-height:13px;color:#e6e6e6;font-weight:normal;left:692.50px;transform-origin:left center;">量</div>
<div class="a" style="top:24.00px;font-size:13px;line-height:13px;color:#e6e6e6;font-weight:normal;left:708.50px;transform-origin:left center;transform:scaleX(1.0768);">28.11万</div>
<div class="a" style="top:24.00px;font-size:13px;line-height:13px;color:#e6e6e6;font-weight:normal;left:767.50px;transform-origin:left center;">换</div>
<div class="a" style="top:24.00px;font-size:13px;line-height:13px;color:#e6e6e6;font-weight:normal;left:784.00px;transform-origin:left center;transform:scaleX(1.0576);">6.91%</div>
<div class="a" style="top:24.00px;font-size:13px;line-height:13px;color:#e6e6e6;font-weight:normal;left:833.50px;transform-origin:left center;">振</div>
<div class="a" style="top:24.00px;font-size:13px;line-height:13px;color:#e6e6e6;font-weight:normal;left:849.50px;transform-origin:left center;transform:scaleX(1.0712);">1.64%</div>
<div class="a" style="top:24.00px;font-size:13px;line-height:13px;color:#e6e6e6;font-weight:normal;left:899.50px;transform-origin:left center;">额</div>
<div class="a" style="top:24.00px;font-size:13px;line-height:13px;color:#e6e6e6;font-weight:normal;left:915.50px;transform-origin:left center;transform:scaleX(1.0734);">2525万</div>
<div class="a" style="top:44.50px;font-size:13px;line-height:13px;color:#e6e6e6;font-weight:normal;left:23.00px;transform-origin:left center;transform:scaleX(1.0099);">MA5</div>
<div class="a" style="top:44.50px;font-size:13px;line-height:13px;color:#e3861c;font-weight:normal;left:55.00px;transform-origin:left center;transform:scaleX(0.9586);">0.833</div>
<svg class="a" style="left:85.8px;top:45px" width="6" height="13" viewBox="0 0 6 13"><path d="M3 1.2V12" stroke="#e3861c" stroke-width="1.1"/><path d="M0.4 4.6L3 0.8L5.6 4.6z" fill="#e3861c"/></svg>
<div class="a" style="top:44.50px;font-size:13px;line-height:13px;color:#e6e6e6;font-weight:normal;left:97.00px;transform-origin:left center;">MA10</div>
<div class="a" style="top:44.50px;font-size:13px;line-height:13px;color:#c9c234;font-weight:normal;left:135.50px;transform-origin:left center;transform:scaleX(0.9893);">0.801</div>
<svg class="a" style="left:167.3px;top:45px" width="6" height="13" viewBox="0 0 6 13"><path d="M3 1.2V12" stroke="#c9c234" stroke-width="1.1"/><path d="M0.4 4.6L3 0.8L5.6 4.6z" fill="#c9c234"/></svg>
<div class="a" style="top:44.50px;font-size:13px;line-height:13px;color:#e6e6e6;font-weight:normal;left:178.50px;transform-origin:left center;transform:scaleX(0.9715);">MA20</div>
<div class="a" style="top:44.50px;font-size:13px;line-height:13px;color:#a93fd0;font-weight:normal;left:216.50px;transform-origin:left center;">0.790</div>
<svg class="a" style="left:248.8px;top:45px" width="6" height="13" viewBox="0 0 6 13"><path d="M3 1.2V12" stroke="#a93fd0" stroke-width="1.1"/><path d="M0.4 4.6L3 0.8L5.6 4.6z" fill="#a93fd0"/></svg>
<div class="a" style="top:44.50px;font-size:13px;line-height:13px;color:#e6e6e6;font-weight:normal;left:259.50px;transform-origin:left center;transform:scaleX(0.9862);">MA60</div>
<div class="a" style="top:44.50px;font-size:13px;line-height:13px;color:#1e9a40;font-weight:normal;left:297.50px;transform-origin:left center;">0.713</div>
<svg class="a" style="left:329.8px;top:45px" width="6" height="13" viewBox="0 0 6 13"><path d="M3 1.2V12" stroke="#1e9a40" stroke-width="1.1"/><path d="M0.4 4.6L3 0.8L5.6 4.6z" fill="#1e9a40"/></svg>
<div class="a" style="top:44.50px;font-size:13px;line-height:13px;color:#e6e6e6;font-weight:normal;left:339.50px;transform-origin:left center;transform:scaleX(1.0193);">MA120</div>
<div class="a" style="top:44.50px;font-size:13px;line-height:13px;color:#28b4bc;font-weight:normal;left:385.50px;transform-origin:left center;transform:scaleX(0.9893);">0.640</div>
<svg class="a" style="left:417.3px;top:45px" width="6" height="13" viewBox="0 0 6 13"><path d="M3 1.2V12" stroke="#28b4bc" stroke-width="1.1"/><path d="M0.4 4.6L3 0.8L5.6 4.6z" fill="#28b4bc"/></svg>
<div class="a" style="top:44.50px;font-size:13px;line-height:13px;color:#e6e6e6;font-weight:normal;left:427.50px;transform-origin:left center;transform:scaleX(1.0193);">MA250</div>
<div class="a" style="top:44.50px;font-size:13px;line-height:13px;color:#3b6fd6;font-weight:normal;left:473.50px;transform-origin:left center;transform:scaleX(0.9893);">0.595</div>
<svg class="a" style="left:505.3px;top:45px" width="6" height="13" viewBox="0 0 6 13"><path d="M3 1.2V12" stroke="#3b6fd6" stroke-width="1.1"/><path d="M0.4 4.6L3 0.8L5.6 4.6z" fill="#3b6fd6"/></svg>
<div class="a" style="top:44.50px;font-size:13px;line-height:13px;color:#e6e6e6;font-weight:normal;left:811.50px;transform-origin:left center;transform:scaleX(1.0067);">2025/04/09-2025/10/09(122日)</div>
<div class="a" style="left:812px;top:57px;width:178px;height:1px;background:#d8d8d8"></div>
<svg class="a" style="left:990px;top:22px" width="42" height="38" viewBox="0 0 42 38">
  <path d="M1 23h14l-7 11.5z" fill="#8a8a8a"/>
  <rect x="23" y="2" width="16" height="11" fill="none" stroke="#9a9a9a" stroke-width="1.2"/>
  <text x="31" y="11.3" font-size="8" font-weight="bold" fill="#9a9a9a" text-anchor="middle" font-family="Liberation Sans">WP</text>
  <path d="M31 13v2.5M27 15.5h8" stroke="#9a9a9a" stroke-width="1.2"/>
  <rect x="22" y="28" width="11" height="8" fill="#e8b030"/>
  <rect x="27" y="30.5" width="1.6" height="3" fill="#15171c"/>
  <path d="M30 28v-2.6a3 3 0 0 1 6 0v1.6" fill="none" stroke="#e8b030" stroke-width="1.5"/>
</svg>
<div class="hl" style="left:22px;top:61px;width:1009px;background:#3a3c42"></div>

<!-- right divider -->
<div class="a" style="left:1031px;top:0;width:1px;height:522px;background:#08090b"></div><div class="a" style="left:1032px;top:0;width:2px;height:522px;background:#2a2c31"></div><div class="a" style="left:1034px;top:0;width:1px;height:522px;background:#08090b"></div>
<div class="a" style="top:6.00px;font-size:16px;line-height:16px;color:#f2f2f2;font-weight:bold;left:1051.30px;transform-origin:left center;transform:scaleX(1.0699);">有色龙头ETF</div>
<div class="a" style="top:3.05px;font-size:22.5px;line-height:22.5px;color:#dedede;font-weight:normal;left:1299.30px;transform-origin:left center;transform:scaleX(0.9455);">159876</div>
<div class="a" style="top:21.50px;font-size:36px;line-height:36px;color:#f5333b;font-weight:bold;left:1049.90px;transform-origin:left center;transform:scaleX(1.0311);">0.900</div>
<div class="a" style="top:31.00px;font-size:16px;line-height:16px;color:#f5333b;font-weight:bold;left:1243.70px;transform-origin:left center;transform:scaleX(1.1196);">+0.046</div>
<div class="a" style="top:31.00px;font-size:16px;line-height:16px;color:#f5333b;font-weight:bold;left:1309.40px;transform-origin:left center;transform:scaleX(1.1130);">+5.39%</div>
<div class="a" style="top:55.30px;font-size:12px;line-height:12px;color:#a8a8a8;font-weight:normal;left:1049.00px;transform-origin:left center;transform:scaleX(0.8742);">SZSE</div>
<div class="a" style="top:55.30px;font-size:12px;line-height:12px;color:#a8a8a8;font-weight:normal;left:1084.80px;transform-origin:left center;transform:scaleX(0.9628);">CNY</div>
<div class="a" style="top:55.30px;font-size:12px;line-height:12px;color:#a8a8a8;font-weight:normal;left:1118.30px;transform-origin:left center;">9:36:15</div>
<div class="a" style="top:55.30px;font-size:12px;line-height:12px;color:#a8a8a8;font-weight:normal;left:1166.50px;transform-origin:left center;transform:scaleX(1.0167);">交易中</div>
<svg class="a" style="left:1320px;top:53px" width="52" height="14" viewBox="0 0 52 14"><rect x="2" y="1" width="12" height="12" rx="1" fill="#2b2d32"/><rect x="20" y="1" width="12" height="12" rx="1" fill="#2b2d32"/><rect x="38" y="1" width="12" height="12" rx="1" fill="#2b2d32"/><path d="M4.5 11.5l1-3 5-5 2 2-5 5z" fill="#3cc4d8"/><path d="M22.5 10.5h7l-1-1.5v-3a2.5 2.5 0 0 0-5 0v3z M25 11.2h2a1 1 0 0 1-2 0z" fill="#3cc4d8"/><path d="M44 3.5v7M40.5 7h7" stroke="#3cc4d8" stroke-width="1.8"/></svg>
<div class="a" style="left:1044px;top:66px;width:326px;height:3px;background:#0c0d10"></div><div class="a" style="left:1044px;top:67px;width:326px;height:1px;background:#4a4c50"></div>
<div class="a" style="top:73.00px;font-size:13px;line-height:13px;color:#c4c4c4;font-weight:normal;left:1049.30px;transform-origin:left center;transform:scaleX(1.0173);">净值走势</div>
<div class="a" style="top:73.00px;font-size:13px;line-height:13px;color:#e6e6e6;font-weight:normal;left:1237.50px;transform-origin:left center;transform:scaleX(0.9738);">华宝中证有色金属ETF</div>
<div class="a" style="left:1044px;top:88px;width:326px;height:1px;background:#3a3c41"></div>
<div class="a" style="top:92.20px;font-size:13px;line-height:13px;color:#c4c4c4;font-weight:normal;left:1049.30px;transform-origin:left center;">委比</div>
<div class="a" style="top:91.35px;font-size:14px;line-height:14px;color:#22c055;font-weight:normal;right:173.50px;transform-origin:right center;transform:scaleX(1.0155);">-11.36%</div>
<div class="a" style="top:92.20px;font-size:13px;line-height:13px;color:#c4c4c4;font-weight:normal;left:1208.40px;transform-origin:left center;">委差</div>
<div class="a" style="top:91.35px;font-size:14px;line-height:14px;color:#22c055;font-weight:normal;right:10.10px;transform-origin:right center;">-11819</div>
<div class="a" style="left:1044px;top:108px;width:326px;height:1px;background:#3a3c41"></div>
<div class="a" style="top:113.70px;font-size:13px;line-height:13px;color:#c4c4c4;font-weight:normal;left:1049.50px;transform-origin:left center;">卖五</div>
<div class="a" style="top:112.85px;font-size:14px;line-height:14px;color:#f0363c;font-weight:normal;left:1197.80px;transform-origin:left center;">0.905</div>
<div class="a" style="top:112.85px;font-size:14px;line-height:14px;color:#e6e6e6;font-weight:normal;right:12.10px;transform-origin:right center;">1518</div>
<div class="a" style="top:132.70px;font-size:13px;line-height:13px;color:#c4c4c4;font-weight:normal;left:1049.50px;transform-origin:left center;">卖四</div>
<div class="a" style="top:131.85px;font-size:14px;line-height:14px;color:#f0363c;font-weight:normal;left:1197.80px;transform-origin:left center;">0.904</div>
<div class="a" style="top:131.85px;font-size:14px;line-height:14px;color:#e6e6e6;font-weight:normal;right:12.10px;transform-origin:right center;">4973</div>
<div class="a" style="top:151.70px;font-size:13px;line-height:13px;color:#c4c4c4;font-weight:normal;left:1049.50px;transform-origin:left center;">卖三</div>
<div class="a" style="top:150.85px;font-size:14px;line-height:14px;color:#f0363c;font-weight:normal;left:1197.80px;transform-origin:left center;">0.903</div>
<div class="a" style="top:150.85px;font-size:14px;line-height:14px;color:#e6e6e6;font-weight:normal;right:12.10px;transform-origin:right center;">4884</div>
<div class="a" style="top:170.70px;font-size:13px;line-height:13px;color:#c4c4c4;font-weight:normal;left:1049.50px;transform-origin:left center;">卖二</div>
<div class="a" style="top:169.85px;font-size:14px;line-height:14px;color:#f0363c;font-weight:normal;left:1197.80px;transform-origin:left center;">0.902</div>
<div class="a" style="top:169.85px;font-size:14px;line-height:14px;color:#e6e6e6;font-weight:normal;right:12.10px;transform-origin:right center;">44191</div>
<div class="a" style="top:189.70px;font-size:13px;line-height:13px;color:#c4c4c4;font-weight:normal;left:1049.50px;transform-origin:left center;">卖一</div>
<div class="a" style="top:188.85px;font-size:14px;line-height:14px;color:#f0363c;font-weight:normal;left:1197.80px;transform-origin:left center;">0.901</div>
<div class="a" style="top:188.85px;font-size:14px;line-height:14px;color:#e6e6e6;font-weight:normal;right:12.10px;transform-origin:right center;">2374</div>
<div class="a" style="left:1044px;top:206px;width:326px;height:1px;background:#55575b"></div>
<div class="a" style="top:210.40px;font-size:13px;line-height:13px;color:#c4c4c4;font-weight:normal;left:1049.50px;transform-origin:left center;">买一</div>
<div class="a" style="top:209.55px;font-size:14px;line-height:14px;color:#f0363c;font-weight:normal;left:1197.80px;transform-origin:left center;">0.900</div>
<div class="a" style="top:209.55px;font-size:14px;line-height:14px;color:#e6e6e6;font-weight:normal;right:12.10px;transform-origin:right center;">2</div>
<div class="a" style="top:229.45px;font-size:13px;line-height:13px;color:#c4c4c4;font-weight:normal;left:1049.50px;transform-origin:left center;">买二</div>
<div class="a" style="top:228.60px;font-size:14px;line-height:14px;color:#f0363c;font-weight:normal;left:1197.80px;transform-origin:left center;">0.899</div>
<div class="a" style="top:228.60px;font-size:14px;line-height:14px;color:#e6e6e6;font-weight:normal;right:12.10px;transform-origin:right center;">21510</div>
<div class="a" style="top:248.50px;font-size:13px;line-height:13px;color:#c4c4c4;font-weight:normal;left:1049.50px;transform-origin:left center;">买三</div>
<div class="a" style="top:247.65px;font-size:14px;line-height:14px;color:#f0363c;font-weight:normal;left:1197.80px;transform-origin:left center;">0.898</div>
<div class="a" style="top:247.65px;font-size:14px;line-height:14px;color:#e6e6e6;font-weight:normal;right:12.10px;transform-origin:right center;">11087</div>
<div class="a" style="top:267.55px;font-size:13px;line-height:13px;color:#c4c4c4;font-weight:normal;left:1049.50px;transform-origin:left center;">买四</div>
<div class="a" style="top:266.70px;font-size:14px;line-height:14px;color:#f0363c;font-weight:normal;left:1197.80px;transform-origin:left center;">0.897</div>
<div class="a" style="top:266.70px;font-size:14px;line-height:14px;color:#e6e6e6;font-weight:normal;right:12.10px;transform-origin:right center;">4365</div>
<div class="a" style="top:286.60px;font-size:13px;line-height:13px;color:#c4c4c4;font-weight:normal;left:1049.50px;transform-origin:left center;">买五</div>
<div class="a" style="top:285.75px;font-size:14px;line-height:14px;color:#f0363c;font-weight:normal;left:1197.80px;transform-origin:left center;">0.896</div>
<div class="a" style="top:285.75px;font-size:14px;line-height:14px;color:#e6e6e6;font-weight:normal;right:12.10px;transform-origin:right center;">9157</div>
<div class="a" style="left:1044px;top:308px;width:326px;height:1px;background:#3a3c41"></div>
<div class="a" style="top:312.50px;font-size:13px;line-height:13px;color:#c4c4c4;font-weight:normal;left:1049.80px;transform-origin:left center;">总量</div>
<div class="a" style="top:311.65px;font-size:14px;line-height:14px;color:#e6e6e6;font-weight:normal;right:173.80px;transform-origin:right center;">28.11<span style="font-size:13px">万</span></div>
<div class="a" style="top:312.50px;font-size:13px;line-height:13px;color:#c4c4c4;font-weight:normal;left:1208.40px;transform-origin:left center;">换手</div>
<div class="a" style="top:311.65px;font-size:14px;line-height:14px;color:#e6e6e6;font-weight:normal;right:11.50px;transform-origin:right center;">6.91%</div>
<div class="a" style="top:332.50px;font-size:13px;line-height:13px;color:#c4c4c4;font-weight:normal;left:1049.80px;transform-origin:left center;">现手</div>
<div class="a" style="top:331.65px;font-size:14px;line-height:14px;color:#e6e6e6;font-weight:normal;right:173.80px;transform-origin:right center;">551</div>
<div class="a" style="top:332.50px;font-size:13px;line-height:13px;color:#c4c4c4;font-weight:normal;left:1208.40px;transform-origin:left center;">量比</div>
<div class="a" style="top:331.65px;font-size:14px;line-height:14px;color:#e6e6e6;font-weight:normal;right:11.50px;transform-origin:right center;">16.87</div>
<div class="a" style="top:352.50px;font-size:13px;line-height:13px;color:#c4c4c4;font-weight:normal;left:1049.80px;transform-origin:left center;">外盘</div>
<div class="a" style="top:351.65px;font-size:14px;line-height:14px;color:#f0363c;font-weight:normal;right:173.80px;transform-origin:right center;">8.60<span style="font-size:13px">万</span></div>
<div class="a" style="top:352.50px;font-size:13px;line-height:13px;color:#c4c4c4;font-weight:normal;left:1208.40px;transform-origin:left center;">内盘</div>
<div class="a" style="top:351.65px;font-size:14px;line-height:14px;color:#22c055;font-weight:normal;right:11.50px;transform-origin:right center;">19.51<span style="font-size:13px">万</span></div>
<div class="a" style="top:372.50px;font-size:13px;line-height:13px;color:#c4c4c4;font-weight:normal;left:1049.80px;transform-origin:left center;">总额</div>
<div class="a" style="top:371.65px;font-size:14px;line-height:14px;color:#e6e6e6;font-weight:normal;right:173.80px;transform-origin:right center;">2525.18<span style="font-size:13px">万</span></div>
<div class="a" style="top:372.50px;font-size:13px;line-height:13px;color:#c4c4c4;font-weight:normal;left:1208.40px;transform-origin:left center;">振幅</div>
<div class="a" style="top:371.65px;font-size:14px;line-height:14px;color:#e6e6e6;font-weight:normal;right:11.50px;transform-origin:right center;">1.64%</div>
<div class="a" style="top:392.50px;font-size:13px;line-height:13px;color:#c4c4c4;font-weight:normal;left:1049.80px;transform-origin:left center;">均价</div>
<div class="a" style="top:391.65px;font-size:14px;line-height:14px;color:#f0363c;font-weight:normal;right:173.80px;transform-origin:right center;">0.898</div>
<div class="a" style="top:392.50px;font-size:13px;line-height:13px;color:#c4c4c4;font-weight:normal;left:1208.40px;transform-origin:left center;">开盘</div>
<div class="a" style="top:391.65px;font-size:14px;line-height:14px;color:#f0363c;font-weight:normal;right:11.50px;transform-origin:right center;">0.904</div>
<div class="a" style="top:412.50px;font-size:13px;line-height:13px;color:#c4c4c4;font-weight:normal;left:1049.80px;transform-origin:left center;">最高</div>
<div class="a" style="top:411.65px;font-size:14px;line-height:14px;color:#f0363c;font-weight:normal;right:173.80px;transform-origin:right center;">0.904</div>
<div class="a" style="top:412.50px;font-size:13px;line-height:13px;color:#c4c4c4;font-weight:normal;left:1208.40px;transform-origin:left center;">最低</div>
<div class="a" style="top:411.65px;font-size:14px;line-height:14px;color:#f0363c;font-weight:normal;right:11.50px;transform-origin:right center;">0.890</div>
<div class="a" style="top:432.50px;font-size:13px;line-height:13px;color:#c4c4c4;font-weight:normal;left:1049.80px;transform-origin:left center;">涨停</div>
<div class="a" style="top:431.65px;font-size:14px;line-height:14px;color:#f0363c;font-weight:normal;right:173.80px;transform-origin:right center;">0.939</div>
<div class="a" style="top:432.50px;font-size:13px;line-height:13px;color:#c4c4c4;font-weight:normal;left:1208.40px;transform-origin:left center;">跌停</div>
<div class="a" style="top:431.65px;font-size:14px;line-height:14px;color:#22c055;font-weight:normal;right:11.50px;transform-origin:right center;">0.769</div>
<div class="a" style="left:1044px;top:448px;width:326px;height:1px;background:#3a3c41"></div>
<div class="a" style="top:454.30px;font-size:13px;line-height:13px;color:#c4c4c4;font-weight:normal;left:1049.90px;transform-origin:left center;transform:scaleX(1.0104);">IOPV</div>
<div class="a" style="top:453.45px;font-size:14px;line-height:14px;color:#e6e6e6;font-weight:normal;right:176.40px;transform-origin:right center;">0.8966</div>
<div class="a" style="top:454.30px;font-size:13px;line-height:13px;color:#c4c4c4;font-weight:normal;left:1211.70px;transform-origin:left center;">溢折率</div>
<div class="a" style="top:453.45px;font-size:14px;line-height:14px;color:#f0363c;font-weight:normal;right:12.10px;transform-origin:right center;">0.38%</div>
<div class="a" style="top:474.10px;font-size:13px;line-height:13px;color:#c4c4c4;font-weight:normal;left:1049.90px;transform-origin:left center;">净值</div>
<div class="a" style="top:473.25px;font-size:14px;line-height:14px;color:#f0363c;font-weight:normal;right:176.40px;transform-origin:right center;">0.8527</div>
<div class="a" style="top:474.10px;font-size:13px;line-height:13px;color:#c4c4c4;font-weight:normal;left:1211.70px;transform-origin:left center;">升贴水率</div>
<div class="a" style="top:473.25px;font-size:14px;line-height:14px;color:#f0363c;font-weight:normal;right:12.10px;transform-origin:right center;">5.55%</div>
<div class="a" style="top:492.90px;font-size:13px;line-height:13px;color:#c4c4c4;font-weight:normal;left:1049.90px;transform-origin:left center;">流通盘</div>
<div class="a" style="top:492.05px;font-size:14px;line-height:14px;color:#e6e6e6;font-weight:normal;right:176.40px;transform-origin:right center;">4.07<span style="font-size:13px">亿</span></div>
<div class="a" style="top:492.90px;font-size:13px;line-height:13px;color:#c4c4c4;font-weight:normal;left:1211.70px;transform-origin:left center;">流通值</div>
<div class="a" style="top:492.05px;font-size:14px;line-height:14px;color:#e6e6e6;font-weight:normal;right:12.10px;transform-origin:right center;">3.7<span style="font-size:13px">亿</span></div>
<div class="a" style="left:1044px;top:508px;width:326px;height:1px;background:#3a3c41"></div>
<div class="a" style="top:512.45px;font-size:14px;line-height:14px;color:#c4c4c4;font-weight:normal;left:1049.50px;transform-origin:left center;">09:36:12</div>
<div class="a" style="top:512.45px;font-size:14px;line-height:14px;color:#f0363c;font-weight:normal;left:1200.00px;transform-origin:left center;">0.899</div>
<div class="a" style="top:512.45px;font-size:14px;line-height:14px;color:#22c055;font-weight:normal;right:9.60px;transform-origin:right center;">110</div>
<div class="a" style="left:1370px;top:68px;width:1px;height:454px;background:#0b0c0f"></div>
<div class="a" style="left:1371px;top:68px;width:3px;height:454px;background:#2a2c30"></div>
<svg class="a" style="left:1034px;top:241px" width="12" height="118" viewBox="0 0 12 118"><path d="M0 0L10 8V110L0 117z" fill="#2a2c30"/><path d="M2.2 52.5l3 3.5-3 3.5M5.6 52.5l3 3.5-3 3.5" fill="none" stroke="#cfcfcf" stroke-width="1.1"/></svg>
<svg class="a" style="left:0;top:0" width="1376" height="522" viewBox="0 0 1376 522"><ellipse cx="920" cy="122.3" rx="53.5" ry="93.6" fill="none" stroke="#f5b914" stroke-width="4.6" transform="rotate(2 920 122.3)"/></svg>
</body></html>
